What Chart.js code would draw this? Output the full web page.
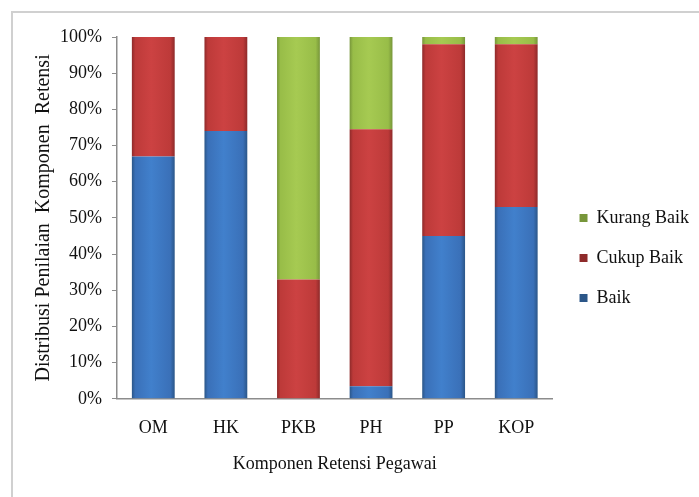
<!DOCTYPE html>
<html>
<head>
<meta charset="utf-8">
<script src="https://cdn.jsdelivr.net/npm/chart.js@4"></script>
<style>
    html, body { margin:0; padding:0; background:#fff; }
    #wrap { position:relative; width:699px; height:497px; overflow:hidden; }
    #frame { position:absolute; left:11px; top:11px; width:760px; height:560px; border-left:2px solid #d0d0d0; border-top:2px solid #d0d0d0; }
    #chart { position:absolute; left:0; top:0; }
</style>
</head>
<body>
<div id="wrap">
    <div id="frame"></div>
    <canvas id="chart" width="699" height="497"></canvas>
</div>
<script>
const categories = ['OM', 'HK', 'PKB', 'PH', 'PP', 'KOP'];
const baik       = [67, 74, 0, 3.5, 45, 53];
const cukupBaik  = [33, 26, 33, 71, 53, 45];
const kurangBaik = [0, 0, 67, 25.5, 2, 2];
const yTicks     = [0, 10, 20, 30, 40, 50, 60, 70, 80, 90, 100];

const FONT = '"Liberation Serif", "Times New Roman", serif';

// darker edges, lighter middle - mimics the bevelled office look
function barFill(base, edge, light) {
    return (ctx) => {
        const chart = ctx.chart;
        if (!chart.chartArea || ctx.type !== 'data') return base;
        const x  = chart.scales.x.getPixelForValue(ctx.dataIndex);
        const bw = chart.scales.x.width / categories.length * 0.59;
        const g  = chart.ctx.createLinearGradient(x - bw/2, 0, x + bw/2, 0);
        g.addColorStop(0,    edge);
        g.addColorStop(0.08, base);
        g.addColorStop(0.45, light);
        g.addColorStop(0.9,  base);
        g.addColorStop(1,    edge);
        return g;
    };
}

// nudge the legend a bit to the right of where the layout puts it
const legendNudge = {
    id: 'legendNudge',
    afterLayout(chart) {
        if (!chart.legend) return;
        chart.legend.left  += 5;
        chart.legend.right += 5;
    }
};

new Chart(document.getElementById('chart'), {
    type: 'bar',
    data: {
        labels: categories,
        datasets: [
            { label:'Baik',        data: baik,       backgroundColor: barFill('#3a70b8', '#2b5688', '#4180cc') },
            { label:'Cukup Baik',  data: cukupBaik,  backgroundColor: barFill('#bd3a39', '#8e2a2a', '#cc4242') },
            { label:'Kurang Baik', data: kurangBaik, backgroundColor: barFill('#98bd48', '#77963a', '#a6ca52') }
        ]
    },
    plugins: [legendNudge],
    options: {
        responsive:false, animation:false,
        layout: { padding: { left:32, right:5, top:37, bottom:18 } },
        datasets: { bar: { barPercentage:0.59, categoryPercentage:1, borderWidth:0 } },
        plugins: {
            tooltip: { enabled:false },
            legend: {
                position:'right', reverse:true,
                labels: { boxWidth:8, boxHeight:8, padding:22, color:'#111', font:{ family:FONT, size:18 } }
            }
        },
        scales: {
            x: {
                stacked:true,
                grid: { display:false },
                border: { color:'#8c8c8c', width:1.5 },
                ticks: { color:'#111', font:{ family:FONT, size:18 }, padding:11 },
                title: { display:true, text:'Komponen Retensi Pegawai', color:'#111', font:{ family:FONT, size:18 }, padding:{ top:3 } }
            },
            y: {
                stacked:true, min:0, max:100,
                afterBuildTicks: (axis) => { axis.ticks = yTicks.map(v => ({ value:v })); },
                grid: { drawOnChartArea:false, drawTicks:true, tickLength:5, color:'#8c8c8c' },
                border: { color:'#8c8c8c', width:1.5 },
                ticks: { color:'#111', font:{ family:FONT, size:18 }, padding:10, callback: v => v + '%' },
                title: { display:true, text:'Distribusi Penilaian  Komponen  Retensi', color:'#111', font:{ family:FONT, size:20 }, padding:{ top:0, bottom:-6 } }
            }
        }
    }
});
</script>
</body>
</html>
